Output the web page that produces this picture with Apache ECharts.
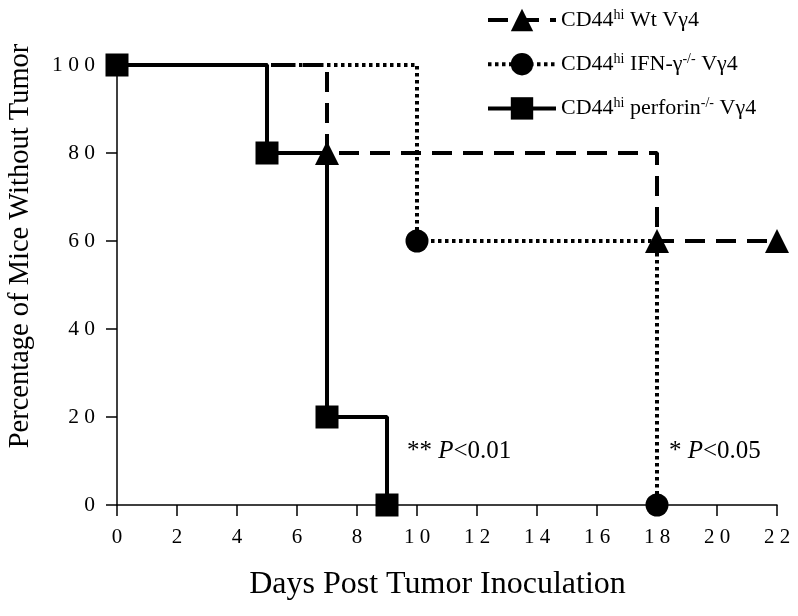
<!DOCTYPE html>
<html>
<head>
<meta charset="utf-8">
<script src="https://cdn.jsdelivr.net/npm/echarts@6/dist/echarts.min.js"></script>
<style>html,body{margin:0;padding:0;background:#fff}#c{width:798px;height:616px}</style>
</head>
<body>
<div id="c"></div>
<script>
// Data
const wtDays = [0, 7, 18, 22];
const wtPct = [100, 80, 60, 60];
const wtMarked = [false, true, true, true];
const ifnDays = [0, 10, 18];
const ifnPct = [100, 60, 0];
const ifnMarked = [false, true, true];
const perfDays = [0, 5, 7, 9];
const perfPct = [100, 80, 20, 0];
const perfMarked = [true, true, true, true];
const seriesNames = ['Wt', 'IFN', 'perforin'];
const xTicks = [0, 2, 4, 6, 8, 10, 12, 14, 16, 18, 20, 22];
const yTicks = [0, 20, 40, 60, 80, 100];
const xTitle = 'Days Post Tumor Inoculation';
const yTitle = 'Percentage of Mice Without Tumor';
const note1 = ['** ', 'P', '<0.01'];
const note2 = ['* ', 'P', '<0.05'];

const FONT = 'Liberation Serif';
function build(days, pct, marked) {
  return days.map((d, i) => marked[i] ? { value: [d, pct[i]] } : { value: [d, pct[i]], symbol: 'none' });
}
function spaced(v) { return String(v).split('').join(' '); }

const chart = echarts.init(document.getElementById('c'), null, { renderer: 'canvas' });
const rich = {
  n: { fontFamily: FONT, fontSize: 22, color: '#000' },
  s: { fontFamily: FONT, fontSize: 14, color: '#000', verticalAlign: 'bottom', padding: [0, 0, 10, 0] }
};
const legendText = {
  Wt: '{n|CD44}{s|hi}{n| Wt Vγ4}',
  IFN: '{n|CD44}{s|hi}{n| IFN-γ}{s|-/-}{n| Vγ4}',
  perforin: '{n|CD44}{s|hi}{n| perforin}{s|-/-}{n| Vγ4}'
};
const noteRich = {
  a: { fontFamily: FONT, fontSize: 25, color: '#000' },
  b: { fontFamily: FONT, fontSize: 25, fontStyle: 'italic', color: '#000' }
};
chart.setOption({
  animation: false,
  backgroundColor: '#fff',
  grid: { left: 117, right: 21, top: 65, bottom: 111, containLabel: false },
  legend: {
    orient: 'vertical', left: 481, top: 3,
    itemWidth: 68, itemHeight: 28, itemGap: 21,
    data: seriesNames,
    formatter: n => legendText[n],
    lineStyle: { width: 4 },
    textStyle: { rich: rich, fontFamily: FONT, fontSize: 22, color: '#000' },
    selectedMode: false
  },
  xAxis: {
    type: 'value', min: 0, max: 22, interval: 2,
    axisLine: { show: true, lineStyle: { color: '#000', width: 1.5 } },
    axisTick: { show: true, length: 11, lineStyle: { color: '#000', width: 1.5 } },
    axisLabel: { formatter: spaced, fontFamily: FONT, fontSize: 21, color: '#000', margin: 22 },
    splitLine: { show: false }
  },
  yAxis: {
    type: 'value', min: 0, max: 100, interval: 20,
    axisLine: { show: true, lineStyle: { color: '#000', width: 1.5 } },
    axisTick: { show: true, length: 11, lineStyle: { color: '#000', width: 1.5 } },
    axisLabel: { formatter: spaced, fontFamily: FONT, fontSize: 21.5, color: '#000', margin: 22 },
    splitLine: { show: false }
  },
  series: [
    {
      name: 'perforin', type: 'line', step: 'end', clip: false, z: 3,
      data: build(perfDays, perfPct, perfMarked),
      symbol: 'rect', symbolSize: 23, showSymbol: true,
      lineStyle: { color: '#000', width: 4, type: 'solid' },
      itemStyle: { color: '#000', borderWidth: 0 }
    },
    {
      name: 'Wt', type: 'line', step: 'end', clip: false, z: 4,
      data: build(wtDays, wtPct, wtMarked),
      symbol: 'triangle', symbolSize: 24, showSymbol: true,
      lineStyle: { color: '#000', width: 4, type: [20, 11], cap: 'butt' },
      itemStyle: { color: '#000', borderWidth: 0 }
    },
    {
      name: 'IFN', type: 'line', step: 'end', clip: false, z: 4,
      data: build(ifnDays, ifnPct, ifnMarked),
      symbol: 'circle', symbolSize: 23, showSymbol: true,
      lineStyle: { color: '#000', width: 4, type: [3.5, 3.5], cap: 'butt' },
      itemStyle: { color: '#000', borderWidth: 0 }
    }
  ],
  graphic: [
    {
      type: 'text', x: 437.5, y: 585,
      style: { text: xTitle, font: '32px "' + FONT + '"', fill: '#000', align: 'center', verticalAlign: 'middle' }
    },
    {
      type: 'text', x: 21, y: 246, rotation: Math.PI / 2,
      style: { text: yTitle, font: '28.5px "' + FONT + '"', fill: '#000', align: 'center', verticalAlign: 'middle' }
    },
    {
      type: 'text', x: 407, y: 451,
      style: { text: '{a|' + note1[0] + '}{b|' + note1[1] + '}{a|' + note1[2] + '}', rich: noteRich, verticalAlign: 'middle' }
    },
    {
      type: 'text', x: 669, y: 451,
      style: { text: '{a|' + note2[0] + '}{b|' + note2[1] + '}{a|' + note2[2] + '}', rich: noteRich, verticalAlign: 'middle' }
    }
  ]
});
</script>
</body>
</html>
